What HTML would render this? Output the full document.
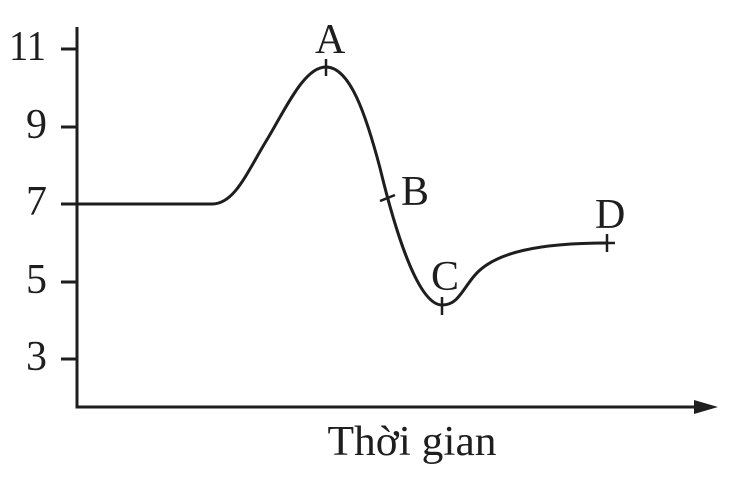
<!DOCTYPE html>
<html><head><meta charset="utf-8"><style>html,body{margin:0;padding:0;background:#fff}</style></head>
<body>
<svg width="743" height="479" viewBox="0 0 743 479" xmlns="http://www.w3.org/2000/svg" style="display:block">
<g stroke="#1e1e1e" stroke-width="3" fill="none">
<path d="M77 27 V407 H698"/>
<path d="M61 49 H77 M61 127 H77 M61 204 H77 M61 282 H77 M61 359 H77"/>
<path stroke-width="3" d="M77 204 L212 204 C235 204 247 172 268 138 C288 104 305 67 326 67 C350 67 366 115 380 168 C395 230 418 305 442 305 C458 305 462 290 475 275 C495 252 540 243 607 243"/>
<path stroke-width="2.5" d="M326 59 V76 M380 201 L395 195 M442 297 V315 M607 234 V252 M599 243 H615"/>
</g>
<polygon points="694,400 718,407 694,414" fill="#1e1e1e"/>
<g font-family="'Liberation Serif',serif" font-size="42" fill="#1e1e1e">
<text x="9" y="60" textLength="37" lengthAdjust="spacingAndGlyphs">11</text>
<text x="26" y="138">9</text>
<text x="26" y="215">7</text>
<text x="26" y="293">5</text>
<text x="26" y="370">3</text>
<text x="315" y="53">A</text>
<text x="401" y="205">B</text>
<text x="431" y="290">C</text>
<text x="595" y="228">D</text>
<text x="412" y="455" text-anchor="middle" textLength="169" lengthAdjust="spacingAndGlyphs">Thời gian</text>
</g>
</svg>
</body></html>
